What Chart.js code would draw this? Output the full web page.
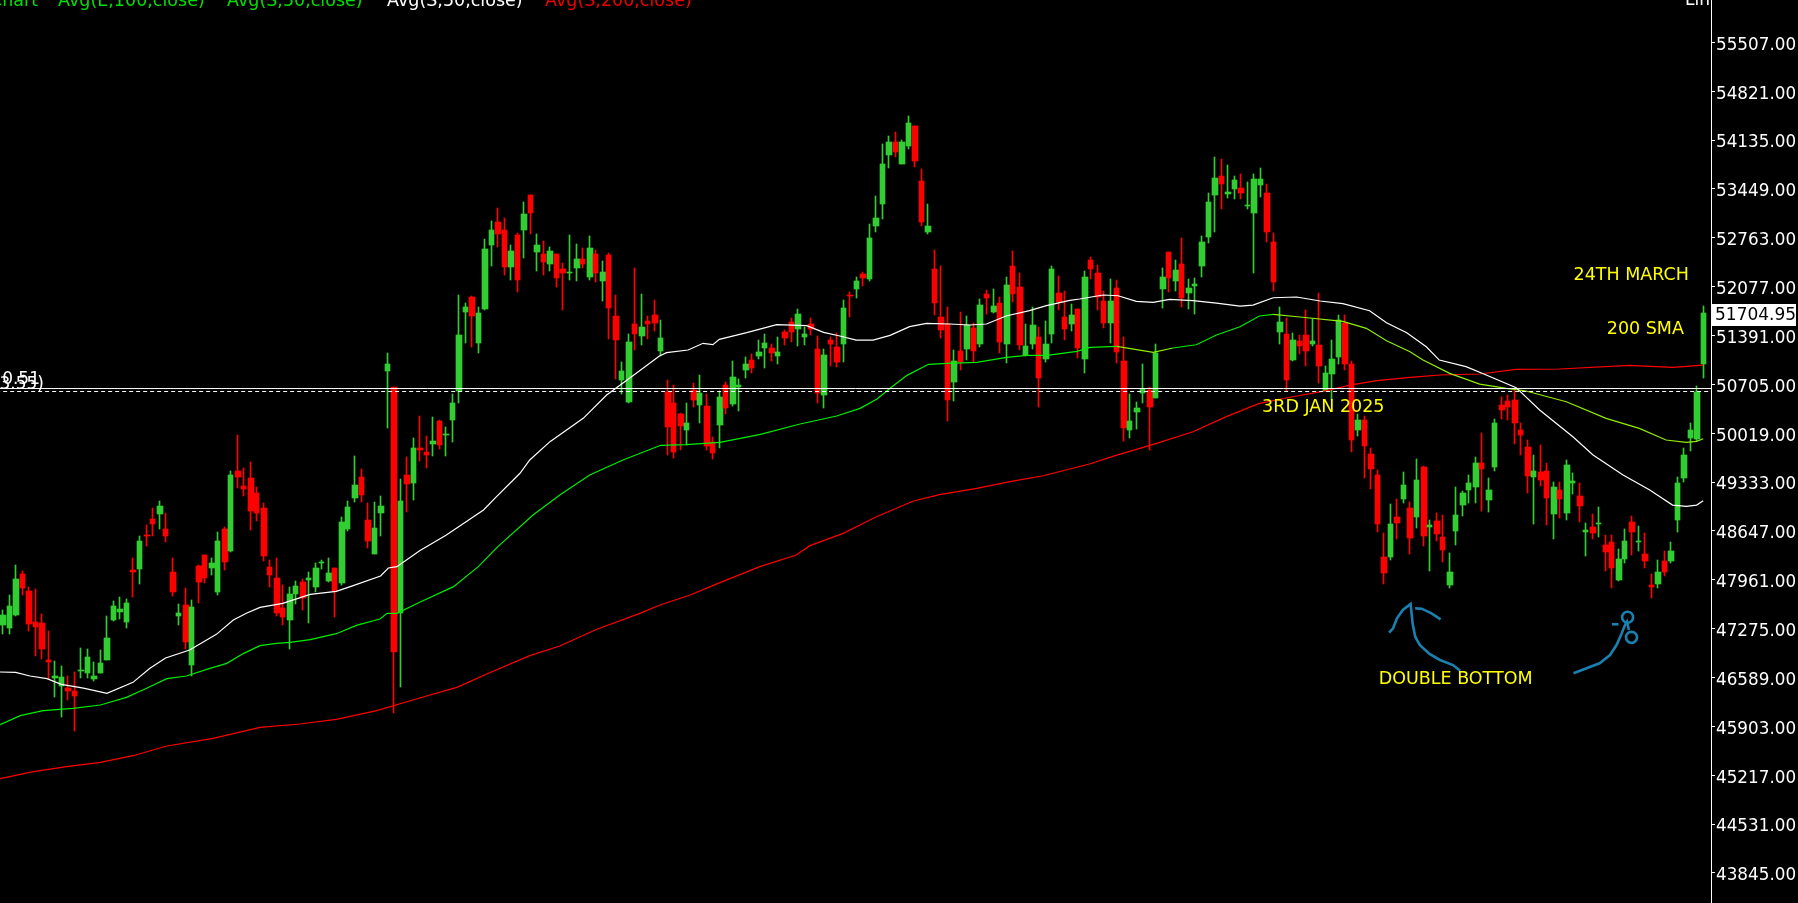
<!DOCTYPE html>
<html lang="en">
<head>
<meta charset="UTF-8" />
<title>Candlestick chart</title>
<script src="https://cdn.jsdelivr.net/npm/chart.js"></script>
<style>
  body { margin: 0; background: #000; overflow: hidden; }
  #wrap { width: 1798px; height: 903px; }
</style>
</head>
<body>
<div id="wrap"><canvas id="chart" width="1798" height="903"></canvas></div>
<script>
const highs = [
  47537,47747,48164,48084,47860,47831,47480,47242,46821,46750,
  46610,46666,47003,46989,46807,46975,47452,47663,47719,47691,
  48267,48576,48730,48969,49067,48898,48267,47621,47845,47677,
  48168,48309,48267,48632,48702,49488,49994,49530,49615,49264,
  49039,48239,48267,47888,47860,47944,47972,48070,48196,48239,
  48267,48126,48842,49067,49699,49516,49039,49053,49137,51145,
  50668,49376,49685,49951,50260,49980,50246,50204,50106,50569,
  51959,51847,51945,51791,52745,52998,53181,53040,52661,52830,
  53265,53363,52816,52717,52633,52535,52408,52802,52675,52619,
  52788,52591,52437,52549,51959,51019,51412,52338,51973,51664,
  51889,51608,50766,50696,50302,50443,50724,50836,50569,49966,
  50611,50738,51033,50780,51089,51131,51327,51412,51271,51370,
  51468,51636,51763,51510,51636,51384,51201,51370,51426,51889,
  52001,52212,52282,52956,53349,54079,54192,54248,54135,54472,
  54332,53728,53237,52591,52366,51791,51187,51721,51664,51566,
  51903,52029,52043,51931,52212,52577,52268,51552,51791,51510,
  51594,52366,52226,52015,51832,51763,52296,52492,52380,52015,
  52183,52169,51369,50569,50457,50990,50667,51271,52338,52563,
  52450,52759,52183,52197,52787,53391,53896,53868,53784,53630,
  53658,53545,53658,53742,53517,52829,51790,51636,51425,51397,
  51748,51622,51987,50962,51327,51678,51678,51032,50288,50260,
  49811,49502,48617,49024,49095,49474,49053,49656,49558,48800,
  48898,48870,48336,49263,49207,49432,49684,50021,49389,50218,
  50527,50555,50639,50162,49923,49712,49853,49600,49333,49333,
  49642,49460,49319,48758,48884,48982,48589,48589,48393,48673,
  48856,48716,48617,48042,48238,48365,48491,49404,49811,50162,
  50681,51805
];
const opens = [
  47326,47284,47466,48042,47803,47368,47354,46835,46582,46470,
  46441,46399,46680,46652,46568,46652,46835,47396,47509,47368,
  48098,48112,48590,48814,48884,48674,48070,47452,47607,46764,
  48154,48309,48126,47789,48674,48365,49488,49278,49390,49179,
  48969,48140,47986,47565,47396,47761,47930,47958,47860,48196,
  47944,48126,47916,48674,49109,49404,48800,48323,48898,50892,
  50668,47494,49432,49320,49811,49755,49867,50190,49994,50204,
  50611,51721,51931,51285,51763,52661,52984,52872,52352,52802,
  52872,53363,52563,52535,52394,52535,52324,52268,52338,52465,
  52212,52535,52156,52521,51664,50766,50457,51552,51384,51594,
  51678,51173,50597,50443,50288,50064,50625,50415,50401,49895,
  50134,50696,50429,50668,50906,51047,51103,51215,51215,51103,
  51440,51580,51482,51370,51552,51201,50555,51327,51229,51271,
  51959,52043,52254,52184,52928,53237,53925,54107,53798,54051,
  54332,53560,52844,52324,51650,51552,50738,51173,51201,51496,
  51271,51973,51721,51847,51271,52366,52072,51117,51271,51370,
  51061,51412,51987,51650,51552,51762,51060,52450,52268,51875,
  51566,52057,51032,50063,50316,50583,50625,50513,52043,52563,
  52155,52394,51987,52085,52366,52773,53363,53630,53377,53447,
  53461,53208,53110,53503,53391,52703,51439,51411,51046,51313,
  51397,51271,51257,50611,50850,51088,51566,50990,50063,50204,
  49726,49432,48280,48280,48842,49095,48968,48842,49544,48702,
  48786,48561,47887,48645,49010,49221,49263,49600,49081,49544,
  50414,50471,50485,50063,49825,49404,49474,49488,48884,49221,
  48898,49319,49137,48631,48702,48744,48449,48491,47957,48252,
  48772,48491,48322,47887,47901,48224,48224,48800,49389,49951,
  49937,50990
];
const closes = [
  47466,47593,47972,47845,47340,47298,46989,46807,46610,46596,
  46399,46329,46694,46877,46610,46792,47143,47593,47551,47635,
  48070,48505,48576,48744,48997,48576,47789,47494,47087,47579,
  47930,47986,48196,48505,48211,49432,49404,49235,48927,48898,
  48295,48028,47494,47438,47761,47874,47705,47986,48126,48211,
  48056,47803,48772,48983,49292,49151,48505,48688,48997,50990,
  46947,49067,49306,49811,49783,49713,49909,49853,50008,50443,
  51398,51791,51664,51706,52605,52872,52816,52352,52577,52170,
  53096,53110,52661,52423,52577,52198,52268,52282,52465,52394,
  52619,52268,52282,51777,51327,50892,51299,51412,51510,51552,
  51566,51355,50106,49755,50120,50162,50485,50583,49839,49741,
  50527,50373,50808,50696,50990,50934,51159,51285,51145,51159,
  51355,51440,51692,51412,51482,50583,51117,51271,51019,51777,
  51945,52156,52198,52759,53040,53798,54107,53967,54107,54374,
  53841,52984,52928,51847,51468,50485,51033,51019,51538,51173,
  51819,51917,51805,51299,52100,51973,51257,51243,51538,50794,
  51271,52324,51861,51481,51678,51215,52212,52324,51931,51566,
  51875,51159,50091,50190,50372,50639,50386,51144,52212,52197,
  52310,51917,52057,52113,52703,53265,53601,53517,53405,53573,
  53391,53222,53587,53587,52843,52141,51580,50765,51327,51243,
  51173,51313,50962,50864,51060,51608,50990,49923,50204,49839,
  49516,48744,48056,48744,48758,49291,48547,49361,48575,48730,
  48603,48379,48070,48870,49179,49319,49600,49516,49221,50162,
  50344,50386,50162,49993,49418,49488,49361,49109,49263,49095,
  49572,49347,48996,48659,48617,48758,48351,48126,48252,48505,
  48631,48505,48224,47859,48070,48070,48365,49319,49712,50063,
  50597,51705
];
const lows = [
  47200,47200,47452,47747,47242,46891,46849,46563,46320,46034,
  46273,45838,46582,46582,46540,46652,46835,47382,47410,47284,
  47719,47902,48435,48576,48674,48491,47733,47326,46989,46610,
  47635,47916,48028,47747,48098,48351,49249,49137,48660,48786,
  48225,47860,47452,47326,46989,47621,47537,47354,47789,48112,
  47930,47438,47888,48646,49053,49053,48407,48323,48576,50092,
  46090,46456,48913,49081,49629,49530,49699,49797,49699,49895,
  50443,51285,51229,51145,51749,52366,52633,52240,52170,52001,
  52479,52816,52296,52240,52296,52072,51749,52170,52156,52338,
  52170,52142,51875,51341,50780,50569,50443,51187,51257,51341,
  51454,51103,49713,49671,49783,49853,50387,50162,49783,49657,
  49811,50288,50401,50331,50794,50864,51061,50934,51033,50990,
  51257,51299,51243,51257,51398,50443,50373,50962,50948,51019,
  51650,51917,52086,52156,52844,53026,53742,53897,53798,54009,
  53756,52928,52816,51678,51355,50190,50471,50906,51047,51019,
  51229,51692,51706,51145,51004,51861,51187,51103,51201,50387,
  51019,51285,51749,51327,51453,51074,50864,52183,51748,51495,
  51285,51004,49909,49951,50077,50442,49783,50513,51776,52001,
  52015,51790,51762,51692,52212,52689,52843,53166,53321,53307,
  53307,53166,52268,53335,52703,52015,51271,50611,51032,51130,
  50962,51243,50723,50611,50485,50990,50906,49755,49979,49389,
  49235,48631,47901,48238,48533,49038,48322,48687,48435,48084,
  48505,48210,47845,48449,48856,49038,49038,48926,48912,49488,
  50218,50204,49867,49712,49179,48744,49277,48730,48533,48828,
  48800,49165,48772,48294,48533,48561,48084,47845,47943,48196,
  48308,48365,48126,47705,47845,48014,48196,48631,49333,49769,
  49909,50794
];

const maWhiteAt = [
  -0.4,2,4.2,6.8,9,12.4,16,20,22.6,25,28.7,32.8,35.4,37.4,39.5,43,47.2,51.2,53.8,58,
  59.2,60.5,64,68.1,73.8,75.8,79.4,80.9,84,89.1,92.7,96,100.8,101.9,105.2,107.5,109,110,114.2,118.8,
  123.4,126,128.5,131,133.6,136.2,139.2,141.8,145.4,148.4,151,154,157.6,160.2,163.8,165.3,168.9,171.2,174,176.6,
  179.1,182.7,186.3,189.9,191.9,195,198.6,202.2,205.7,209.8,212.4,215.5,218.5,220.5,224.6,227.7,232.3,235.9,241,244.1,
  248.7,252.8,256.3,258.4,260,261
];
const maWhite = [
  46666,46662,46610,46573,46493,46441,46367,46521,46718,46863,46975,47195,47396,47490,47574,47630,47757,47799,47878,48014,
  48126,48145,48370,48590,48941,49128,49456,49643,49900,50228,50555,50775,51103,51150,51187,51281,51262,51337,51430,51543,
  51529,51435,51384,51327,51327,51393,51515,51561,51552,51538,51552,51664,51739,51809,51884,51903,51959,51949,51870,51856,
  51898,51879,51846,51804,51818,51921,51931,51875,51837,51739,51570,51430,51233,51046,50953,50836,50658,50344,49970,49712,
  49432,49221,49010,48992,49010,49071
];
const maGreenAt = [
  -0.4,2.7,6.2,10.8,15,19,22.1,25.2,28.2,31.8,34.4,37,39.5,42,44.1,47.2,51.2,54.3,57.9,59,
  60.5,64,69.2,73,76,81.4,85.5,90.1,95.2,101,104.9,110.1,116.3,122.4,128,131.6,134.2,136.2,138.8,142.1,
  144.9,149.5,154.1,157.2,160.3,164.9,166.9,171,176.6,179.6,183.2,186.3,189.9,192.9,195,199.1,205.7,209.3,212.4,216,
  218,222.1,226.7,230.8,233.8,240,246.1,251.2,255.3,258.4,260,261
];
const maGreen = [
  45927,46053,46123,46156,46203,46310,46437,46573,46610,46718,46788,46928,47036,47069,47083,47120,47204,47321,47410,47490,
  47490,47645,47865,48145,48426,48871,49152,49432,49643,49849,49858,49891,50003,50148,50260,50368,50499,50649,50831,50986,
  51000,51014,51084,51112,51112,51168,51224,51238,51154,51215,51261,51397,51514,51664,51687,51650,51589,51491,51318,51163,
  51046,50859,50709,50648,50611,50461,50227,50087,49923,49890,49904,49942
];
const maRedAt = [
  -0.4,4.7,9.8,15,20,25.2,32.3,39.5,45.6,51.2,57.4,64,69.7,74.3,80.9,85.5,91.2,97.8,100.9,105.5,
  110.1,116.2,121.8,123.9,129,134.1,139.8,143.8,149.5,154.6,159.7,166.8,171,177.1,182.7,187.8,192.9,198,203.2,206.8,
  210.9,216,220.6,226.7,232.3,239,249.7,256.3,261
];
const maRed = [
  45169,45267,45337,45398,45491,45627,45735,45889,45936,46002,46123,46301,46451,46638,46896,47032,47266,47490,47607,47748,
  47921,48145,48309,48440,48613,48847,49067,49156,49245,49338,49422,49586,49712,49876,50040,50251,50438,50531,50616,50695,
  50756,50803,50836,50850,50915,50920,50971,50943,50976
];

const yTicks = [55507,54821,54135,53449,52763,52077,51391,50705,50019,49333,48647,47961,47275,46589,45903,45217,44531,43845];
const lastPrice = 51704.95;
const levelSolid = 50646;
const levelDashed = 50604;

// hand drawn pen marks, [candle index, price]
const penStrokes = [
  [[212.8,47218],[213.4,47280],[214,47420],[214.9,47537],[216.1,47621],[216.4,47350],[216.8,47162],[217.5,47045],[219,46919],[220.6,46835],[222.6,46764],[223.7,46684]],
  [[216.8,47560],[217.8,47555],[219.3,47490],[220.7,47406]],
  [[241.1,46648],[243.1,46718],[245.1,46788],[246.7,46905],[247.7,47045],[248.5,47209],[249,47326],[249.3,47372],[249.6,47256]],
  [[247,47336],[248,47336]]
];
const penCircles = [[249.4,47434],[250,47153]];

const notes = [
  { text: '24TH MARCH', at: 241.1, price: 52240 },
  { text: '200 SMA', at: 246.2, price: 51482 },
  { text: '3RD JAN 2025', at: 193.3, price: 50387 },
  { text: 'DOUBLE BOTTOM', at: 211.2, price: 46568 }
];

const legend = [
  { text: 'Chart', x: -10, color: '#00e000' },
  { text: 'Avg(E,100,close)', x: 58, color: '#00e000' },
  { text: 'Avg(S,50,close)', x: 227, color: '#00e000' },
  { text: 'Avg(S,50,close)', x: 387, color: '#ffffff' },
  { text: 'Avg(S,200,close)', x: 545, color: '#ee0000' }
];

const GREEN = '#32cd32', RED = '#ff0000', PEN = '#1a80b0', YELLOW = '#ffff00';
const FONT = '"DejaVu Sans", sans-serif';
const isUp = i => closes[i] >= opens[i];
const candleColor = highs.map((_, i) => isUp(i) ? GREEN : RED);
const pairs = (at, vals) => at.map((x, i) => ({ x, y: vals[i] }));

function maDataset(data, color) {
  return { type: 'line', data, borderColor: color, borderWidth: 1.2, pointRadius: 0, tension: 0, order: 1 };
}

const datasets = [
  { type: 'bar', data: highs.map((h, i) => ({ x: i, y: [lows[i], h] })), backgroundColor: candleColor, barThickness: 1, grouped: false, order: 3 },
  { type: 'bar', data: opens.map((o, i) => ({ x: i, y: [o, closes[i]] })), backgroundColor: candleColor, barThickness: 5, grouped: false, order: 2 },
  maDataset(pairs(maWhiteAt, maWhite), '#ffffff'),
  Object.assign(maDataset(pairs(maGreenAt, maGreen), '#00ee00'), {
    segment: { borderColor: c => (c.p0.parsed.x >= 195 || (c.p0.parsed.x >= 171 && c.p0.parsed.x < 177)) ? '#90ee00' : undefined }
  }),
  maDataset(pairs(maRedAt, maRed), '#ff0000'),
  { type: 'line', data: [{ x: -1, y: levelSolid }, { x: 263, y: levelSolid }], borderColor: '#fff', borderWidth: 1, pointRadius: 0, order: 0 },
  { type: 'line', data: [{ x: -1, y: levelDashed }, { x: 263, y: levelDashed }], borderColor: '#fff', borderWidth: 1, borderDash: [4, 3], pointRadius: 0, order: 0 }
];
penStrokes.forEach(s => datasets.push({
  type: 'line', data: s.map(p => ({ x: p[0], y: p[1] })), borderColor: PEN, borderWidth: 2.6, pointRadius: 0, order: 0
}));
datasets.push({
  type: 'line', showLine: false, data: penCircles.map(p => ({ x: p[0], y: p[1] })),
  pointRadius: 5.5, pointBorderWidth: 2.6, pointBorderColor: PEN, pointBackgroundColor: 'rgba(0,0,0,0)', order: 0
});

// snap the candles to whole pixels so they stay crisp like the terminal
const snapCandles = {
  id: 'snapCandles',
  afterDatasetsUpdate(chart) {
    const wicks = chart.getDatasetMeta(0).data;
    const bodies = chart.getDatasetMeta(1).data;
    wicks.forEach((w, i) => {
      const px = Math.floor(w.x);
      w.x = px + 0.5;
      w.y = Math.round(w.y);
      w.base = Math.round(w.base);
      const b = bodies[i];
      const width = i % 2 === 0 ? 6 : 5;
      b.width = width;
      b.x = px - 2 + width / 2;
      b.y = Math.round(b.y);
      b.base = Math.round(b.base);
      if (b.y === b.base) b.base += 1;
    });
  }
};

const overlay = {
  id: 'overlay',
  afterDraw(chart) {
    const { ctx, scales: { x, y } } = chart;
    ctx.save();
    ctx.font = '17.5px ' + FONT;
    ctx.textBaseline = 'middle';
    ctx.fillStyle = YELLOW;
    notes.forEach(n => ctx.fillText(n.text, x.getPixelForValue(n.at), y.getPixelForValue(n.price)));

    ctx.textBaseline = 'alphabetic';
    legend.forEach(l => {
      ctx.fillStyle = l.color;
      ctx.fillText(l.text, l.x, 6);
    });
    ctx.fillStyle = '#fff';
    ctx.font = '17px ' + FONT;
    ctx.fillText('Lin', 1685, 5);

    ctx.textAlign = 'right';
    ctx.fillText('0.51', 40, 384);
    ctx.fillText('3.55)', 44, 389);
    ctx.textAlign = 'left';

    // last price tag
    const py = y.getPixelForValue(lastPrice);
    ctx.fillStyle = '#fff';
    ctx.fillRect(1712, Math.round(py) - 9, 84, 22);
    ctx.fillStyle = '#000';
    ctx.textBaseline = 'middle';
    ctx.fillText(lastPrice.toFixed(2), 1715, py + 2);
    ctx.restore();
  }
};

new Chart(document.getElementById('chart'), {
  type: 'bar',
  data: { datasets },
  plugins: [snapCandles, overlay],
  options: {
    responsive: false,
    animation: false,
    devicePixelRatio: 1,
    layout: { padding: 0, autoPadding: false },
    plugins: { legend: { display: false }, tooltip: { enabled: false } },
    scales: {
      x: { type: 'linear', display: false, offset: false, min: -0.41, max: 262.2 },
      y: {
        position: 'right',
        min: 43423,
        max: 56101,
        afterFit: s => { s.width = 87; s.paddingTop = 0; s.paddingBottom = 0; },
        afterBuildTicks: s => { s.ticks = yTicks.map(value => ({ value })); },
        border: { color: '#fff', width: 1 },
        grid: { drawOnChartArea: false, color: '#fff', tickLength: 4 },
        ticks: { color: '#fff', padding: 1, labelOffset: 3, font: { family: FONT, size: 16.8 }, callback: v => v.toFixed(2) }
      }
    }
  }
});
</script>
</body>
</html>
